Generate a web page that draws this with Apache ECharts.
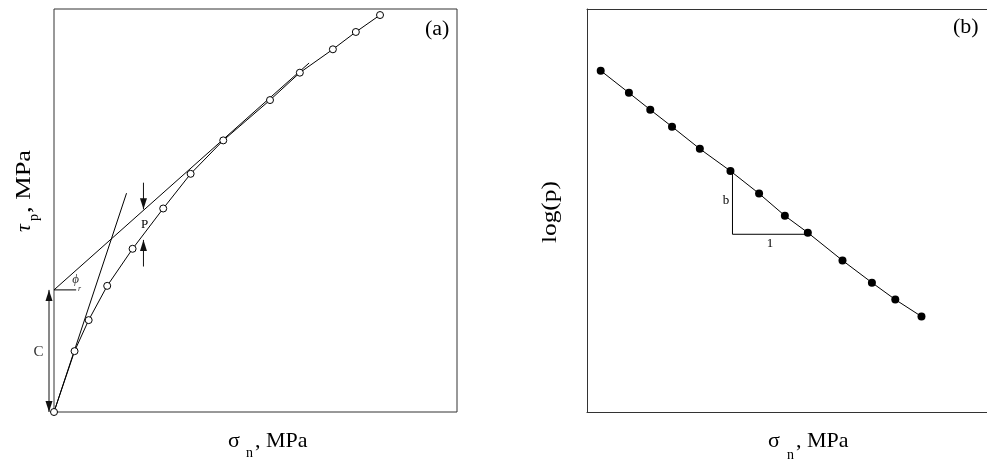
<!DOCTYPE html>
<html><head><meta charset="utf-8">
<script src="https://cdn.jsdelivr.net/npm/echarts@6/dist/echarts.min.js"></script>
<style>html,body{margin:0;padding:0;background:#fff}#c{width:987px;height:460px}</style>
</head><body><div id="c"></div>
<script>
// Panel (a): peak shear strength vs normal stress (unitless axes, 0-100)
const aSigma = [0, 5.1, 8.6, 13.2, 19.5, 27.1, 33.9, 42.0, 53.6, 61.0, 69.2, 74.9, 80.9];
const aTau   = [0, 15.1, 22.8, 31.3, 40.5, 50.5, 59.1, 67.4, 77.4, 84.2, 90.0, 94.3, 98.5];
const aEnvelope = [[0, 30.3], [63.3, 86.6]];
const aInitial  = [[0, 0], [18.0, 54.3]];
const aPhiRef   = [[0, 30.3], [5.5, 30.3]];
// arrows: [x1, y1, x2, y2, doubleHeaded]
const aArrows = [
  [-1.24, 0, -1.24, 30.3, 1],   // C
  [22.2, 56.9, 22.2, 50.3, 0],  // P (top)
  [22.2, 36.1, 22.2, 42.7, 0]   // P (bottom)
];
// Panel (b): log(p) vs normal stress
const bSigma = [3.4, 10.4, 15.7, 21.1, 28.0, 35.6, 42.7, 49.1, 54.8, 63.4, 70.7, 76.5, 83.0];
const bLogP  = [84.7, 79.2, 75.0, 70.8, 65.3, 59.8, 54.2, 48.7, 44.5, 37.6, 32.1, 27.9, 23.7];
const bTriangle = [[36.1, 59.8], [36.1, 44.1], [54.8, 44.1]];

const SERIF = '"Liberation Serif", "DejaVu Serif", serif';
const zip = (xs, ys) => xs.map((x, i) => [x, ys[i]]);
const chart = echarts.init(document.getElementById('c'));

const plainLine = (data, idx, extra) => Object.assign({
  type: 'line', xAxisIndex: idx, yAxisIndex: idx, data: data,
  symbol: 'none', silent: true, animation: false, clip: false,
  lineStyle: { color: '#000', width: 1 }
}, extra || {});

function head(tip, from, len, wid) {
  const dx = tip[0] - from[0], dy = tip[1] - from[1];
  const d = Math.sqrt(dx * dx + dy * dy) || 1;
  const ux = dx / d, uy = dy / d;
  const bx = tip[0] - ux * len, by = tip[1] - uy * len;
  return { type: 'polygon', shape: { points: [tip, [bx - uy * wid / 2, by + ux * wid / 2], [bx + uy * wid / 2, by - ux * wid / 2]] }, style: { fill: '#111' } };
}

const arrowSeries = {
  type: 'custom', xAxisIndex: 0, yAxisIndex: 0, data: aArrows, clip: false,
  silent: true, animation: false, z: 4,
  renderItem: function (params, api) {
    const p1 = api.coord([api.value(0), api.value(1)]);
    const p2 = api.coord([api.value(2), api.value(3)]);
    const both = api.value(4) === 1;
    const children = [
      { type: 'line', shape: { x1: p1[0], y1: p1[1], x2: p2[0], y2: p2[1] }, style: { stroke: '#111', lineWidth: 1 } },
      head(p2, p1, 11, 7)
    ];
    if (both) children.push(head(p1, p2, 11, 7));
    return { type: 'group', children: children };
  }
};

function txt(text, x, y, size, opts) {
  opts = opts || {};
  return {
    type: 'text', x: x, y: y, scaleX: opts.sx || 1, silent: true,
    style: {
      text: text, fill: opts.fill || '#000',
      font: (opts.italic ? 'italic ' : '') + size + 'px ' + SERIF,
      textAlign: opts.align || 'left', textVerticalAlign: 'middle',
      align: opts.align || 'left', verticalAlign: 'middle'
    }
  };
}

const frameAxis = { show: true, axisLine: { show: true, onZero: false, lineStyle: { color: '#333', width: 1 } }, axisTick: { show: false }, axisLabel: { show: false }, splitLine: { show: false } };

chart.setOption({
  animation: false,
  backgroundColor: '#fff',
  grid: [
    { left: 54, top: 9, width: 403, height: 403, show: true, borderColor: '#333', borderWidth: 1, backgroundColor: 'transparent' },
    { left: 587, top: 9, width: 400, height: 403, show: false }
  ],
  xAxis: [
    { gridIndex: 0, type: 'value', min: 0, max: 100, show: false },
    Object.assign({ gridIndex: 1, type: 'value', min: 0, max: 99.26, position: 'bottom' }, frameAxis),
    Object.assign({ gridIndex: 1, type: 'value', min: 0, max: 99.26, position: 'top' }, frameAxis)
  ],
  yAxis: [
    { gridIndex: 0, type: 'value', min: 0, max: 100, show: false },
    Object.assign({ gridIndex: 1, type: 'value', min: 0, max: 100, position: 'left' }, frameAxis)
  ],
  series: [
    plainLine(aEnvelope, 0),
    plainLine(aInitial, 0),
    plainLine(aPhiRef, 0),
    arrowSeries,
    plainLine(zip(aSigma, aTau), 0, {
      symbol: 'circle', symbolSize: 7, z: 5,
      itemStyle: { color: '#fff', borderColor: '#000', borderWidth: 1 }
    }),
    plainLine(bTriangle, 1),
    plainLine(zip(bSigma, bLogP), 1, {
      symbol: 'circle', symbolSize: 8, z: 5,
      itemStyle: { color: '#000', borderColor: '#000', borderWidth: 0 }
    })
  ],
  graphic: [
    txt('(a)', 425, 30, 20, { sx: 1.1 }),
    txt('(b)', 953, 28, 20, { sx: 1.1 }),
    // x-axis labels
    txt('σ', 228, 441, 22),
    txt('n', 246, 453, 14),
    txt(', MPa', 255, 441, 22),
    txt('σ', 768, 441, 22),
    txt('n', 787, 455, 14),
    txt(', MPa', 796, 441, 22),
    // y-axis labels (rotated)
    {
      type: 'group', x: 32, y: 232, rotation: Math.PI / 2, silent: true,
      children: [
        txt('τ', 0, -8, 22, { italic: true }),
        txt('p', 11, 2, 14),
        txt(', MPa', 19, -8, 22, { sx: 1.2 })
      ]
    },
    {
      type: 'group', x: 557, y: 243, rotation: Math.PI / 2, silent: true,
      children: [txt('log(p)', 0, -7, 22, { sx: 1.15 })]
    },
    // annotations
    txt('C', 38.5, 352, 15, { align: 'center', fill: '#333' }),
    txt('P', 144.5, 224.5, 13, { align: 'center' }),
    txt('ϕ', 75.5, 280, 13, { align: 'center', italic: true, fill: '#333' }),
    txt('r', 79.5, 288.5, 8, { align: 'center', italic: true, fill: '#333' }),
    txt('b', 726, 201, 13, { align: 'center' }),
    txt('1', 770, 244, 13, { align: 'center' })
  ]
});
</script></body></html>
